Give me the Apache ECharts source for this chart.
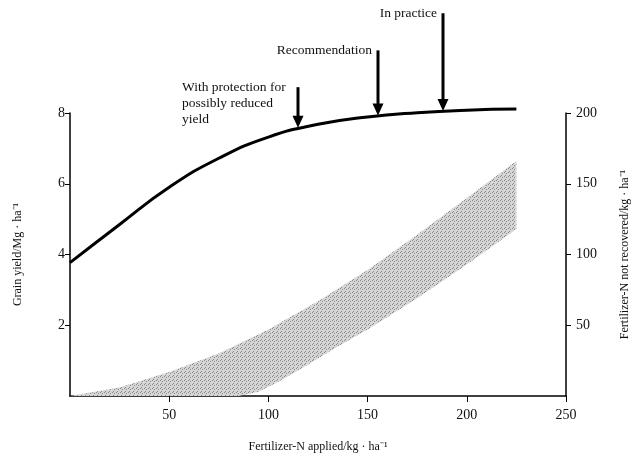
<!DOCTYPE html>
<html>
<head>
<meta charset="utf-8">
<title>Grain yield and fertilizer-N not recovered</title>
<script src="https://cdn.jsdelivr.net/npm/echarts@6/dist/echarts.min.js"></script>
<style>
html, body { margin: 0; padding: 0; background: #fff; }
#chart { width: 639px; height: 458px; }
</style>
</head>
<body>
<div id="chart"></div>
<script>
// grain yield response curve (left axis)
var nApplied = [0, 25, 50, 75, 100, 125, 150, 175, 200, 225];
var grainYield = [3.77, 4.85, 5.9, 6.72, 7.32, 7.68, 7.89, 8.01, 8.08, 8.11];

// band of fertilizer-N not recovered (right axis)
var bandUpperN = [0, 25, 50, 75, 100, 125, 150, 175, 200, 225];
var notRecoveredHigh = [0, 6, 17, 30, 47, 67, 89, 114, 140, 166];
var bandLowerN = [0, 50, 85, 95, 105, 115, 135, 150, 175, 200, 225];
var notRecoveredLow = [0, 0, 0, 3, 10, 18, 35, 47, 69, 93, 118];

// arrows pointing at the curve
var arrowLabels = ['With protection for\npossibly reduced\nyield', 'Recommendation', 'In practice'];
var arrowN = [115, 155, 188];
var arrowTip = [7.58, 7.93, 8.06];
var arrowTop = [8.73, 9.77, 10.82]; // yield units, above the plot

var FONT = 'Liberation Serif';

// stipple texture for the band
function stipple() {
    var c = document.createElement('canvas');
    c.width = 4; c.height = 4;
    var ctx = c.getContext('2d');
    ctx.fillStyle = '#d6d6d6';
    ctx.fillRect(0, 0, 4, 4);
    ctx.fillStyle = '#888';
    ctx.fillRect(0, 0, 1, 1);
    ctx.fillRect(2, 1, 1, 1);
    ctx.fillRect(1, 3, 1, 1);
    return c;
}
var bandFill = { image: stipple(), repeat: 'repeat' };

var chart = echarts.init(document.getElementById('chart'));

var axisCommon = {
    axisLine: { show: true, lineStyle: { color: '#000', width: 1.5 } },
    axisTick: { show: true, length: 5, lineStyle: { color: '#000', width: 1 } },
    axisLabel: { color: '#111', fontFamily: FONT, fontSize: 14, showMinLabel: false },
    splitLine: { show: false },
    nameTextStyle: { color: '#111', fontFamily: FONT, fontSize: 12 }
};

var option = {
    animation: false,
    backgroundColor: '#fff',
    textStyle: { fontFamily: FONT },
    grid: { left: 70, right: 71, top: 113, bottom: 61 },
    xAxis: echarts.util.merge({
        type: 'value',
        min: 0, max: 250, interval: 50,
        name: 'Fertilizer-N applied/kg · ha\u207B\u00B9',
        nameLocation: 'middle',
        nameGap: 45,
        axisTick: { length: 6 },
        axisLabel: { margin: 12 }
    }, axisCommon, false),
    yAxis: [
        echarts.util.merge({
            type: 'value',
            position: 'left',
            min: 0, max: 8, interval: 2,
            name: 'Grain yield/Mg · ha\u207B\u00B9',
            nameLocation: 'middle',
            nameRotate: 90,
            nameGap: 46,
            axisLabel: { margin: 5 }
        }, axisCommon, false),
        echarts.util.merge({
            type: 'value',
            position: 'right',
            min: 0, max: 200, interval: 50,
            name: 'Fertilizer-N not recovered/kg · ha\u207B\u00B9',
            nameLocation: 'middle',
            nameRotate: 90,
            nameGap: 53,
            axisLabel: { margin: 10 }
        }, axisCommon, false)
    ],
    series: [
        {
            name: 'not recovered',
            type: 'custom',
            yAxisIndex: 1,
            data: [[0, 0]],
            z: 1,
            renderItem: function (params, api) {
                var pts = [];
                for (var i = 0; i < bandUpperN.length; i++) {
                    pts.push(api.coord([bandUpperN[i], notRecoveredHigh[i]]));
                }
                for (var j = bandLowerN.length - 1; j >= 0; j--) {
                    pts.push(api.coord([bandLowerN[j], notRecoveredLow[j]]));
                }
                return { type: 'polygon', shape: { points: pts }, style: { fill: bandFill } };
            }
        },
        {
            name: 'grain yield',
            type: 'line',
            yAxisIndex: 0,
            smooth: 0.5,
            symbol: 'none',
            clip: false,
            z: 3,
            lineStyle: { color: '#000', width: 3 },
            data: nApplied.map(function (n, i) { return [n, grainYield[i]]; })
        }
    ]
};

chart.setOption(option);

// arrows + labels, placed through the yield series' axes
function arrowGraphics() {
    var out = [];
    for (var k = 0; k < arrowN.length; k++) {
        var pTop = chart.convertToPixel({ seriesIndex: 1 }, [arrowN[k], arrowTop[k]]);
        var pTip = chart.convertToPixel({ seriesIndex: 1 }, [arrowN[k], arrowTip[k]]);
        var px = Math.round(pTop[0]);
        out.push({
            type: 'line', z: 10,
            shape: { x1: px, y1: pTop[1], x2: px, y2: pTip[1] - 10 },
            style: { stroke: '#000', lineWidth: 3 }
        });
        out.push({
            type: 'polygon', z: 10,
            shape: { points: [[px - 5.5, pTip[1] - 12], [px + 5.5, pTip[1] - 12], [px, pTip[1]]] },
            style: { fill: '#000' }
        });
        if (k === 0) {
            out.push({
                type: 'text', z: 10,
                x: px - 116, y: pTop[1] - 8,
                style: {
                    text: arrowLabels[k], fill: '#111', font: '13.5px "' + FONT + '"',
                    lineHeight: 16, align: 'left', verticalAlign: 'top'
                }
            });
        } else {
            out.push({
                type: 'text', z: 10,
                x: px - 6, y: pTop[1],
                style: {
                    text: arrowLabels[k], fill: '#111', font: '13.5px "' + FONT + '"',
                    align: 'right', verticalAlign: 'middle'
                }
            });
        }
    }
    return out;
}
chart.setOption({ graphic: arrowGraphics() });
</script>
</body>
</html>
